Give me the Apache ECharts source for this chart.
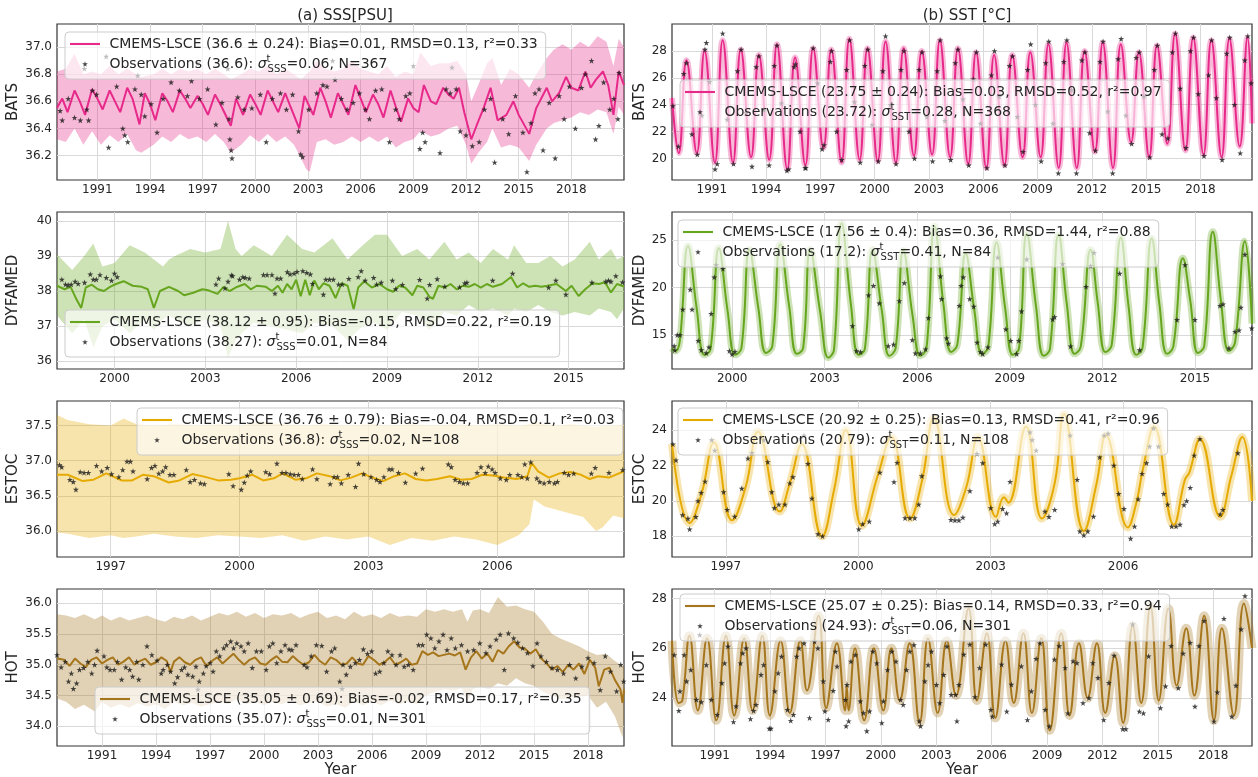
<!DOCTYPE html>
<html>
<head>
<meta charset="utf-8">
<title>CMEMS-LSCE vs observations</title>
<script src="https://cdn.jsdelivr.net/npm/echarts@6/dist/echarts.min.js"></script>
<style>
html, body { margin: 0; padding: 0; background: #fff; }
#main { width: 1258px; height: 777px; }
</style>
</head>
<body>
<div id="main"></div>
<script>
// tick labels
var yearTicksLong = [1991, 1994, 1997, 2000, 2003, 2006, 2009, 2012, 2015, 2018];
var yearTicksDyf = [2000, 2003, 2006, 2009, 2012, 2015];
var yearTicksEstoc = [1997, 2000, 2003, 2006];
var batsSssTicks = [36.2, 36.4, 36.6, 36.8, 37.0];
var batsSstTicks = [20, 22, 24, 26, 28];
var dyfSssTicks = [36, 37, 38, 39, 40];
var dyfSstTicks = [15, 20, 25];
var estocSssTicks = [36.0, 36.5, 37.0, 37.5];
var estocSstTicks = [18, 20, 22, 24];
var hotSssTicks = [34.0, 34.5, 35.0, 35.5, 36.0];
var hotSstTicks = [24, 26, 28];

var legendModel = [
    'CMEMS-LSCE (36.6 ± 0.24): Bias=0.01, RMSD=0.13, r²=0.33',
    'CMEMS-LSCE (23.75 ± 0.24): Bias=0.03, RMSD=0.52, r²=0.97',
    'CMEMS-LSCE (38.12 ± 0.95): Bias=-0.15, RMSD=0.22, r²=0.19',
    'CMEMS-LSCE (17.56 ± 0.4): Bias=0.36, RMSD=1.44, r²=0.88',
    'CMEMS-LSCE (36.76 ± 0.79): Bias=-0.04, RMSD=0.1, r²=0.03',
    'CMEMS-LSCE (20.92 ± 0.25): Bias=0.13, RMSD=0.41, r²=0.96',
    'CMEMS-LSCE (35.05 ± 0.69): Bias=-0.02, RMSD=0.17, r²=0.35',
    'CMEMS-LSCE (25.07 ± 0.25): Bias=0.14, RMSD=0.33, r²=0.94'
];
var legendObs = [
    ['Observations (36.6): ', 'SSS', '=0.06, N=367'],
    ['Observations (23.72): ', 'SST', '=0.28, N=368'],
    ['Observations (38.27): ', 'SSS', '=0.01, N=84'],
    ['Observations (17.2): ', 'SST', '=0.41, N=84'],
    ['Observations (36.8): ', 'SSS', '=0.02, N=108'],
    ['Observations (20.79): ', 'SST', '=0.11, N=108'],
    ['Observations (35.07): ', 'SSS', '=0.01, N=301'],
    ['Observations (24.93): ', 'SST', '=0.06, N=301']
];

// ---- BATS ----
var batsSssModel = [[1988.7,36.55],[1989.0,36.62],[1989.3,36.52],[1989.7,36.68],[1990.0,36.60],[1990.3,36.50],[1990.7,36.69],[1991.0,36.62],[1991.3,36.54],[1991.7,36.68],[1992.0,36.60],[1992.3,36.52],[1992.7,36.70],[1993.0,36.62],[1993.4,36.43],[1993.7,36.66],[1994.0,36.58],[1994.3,36.46],[1994.7,36.66],[1995.0,36.60],[1995.3,36.52],[1995.7,36.68],[1996.0,36.62],[1996.3,36.55],[1996.7,36.64],[1997.0,36.58],[1997.3,36.50],[1997.7,36.65],[1998.0,36.58],[1998.6,36.42],[1998.9,36.62],[1999.3,36.50],[1999.7,36.65],[2000.0,36.58],[2000.3,36.50],[2000.7,36.68],[2001.0,36.60],[2001.3,36.52],[2001.7,36.66],[2002.0,36.56],[2002.5,36.40],[2002.8,36.64],[2003.3,36.50],[2003.7,36.70],[2004.0,36.60],[2004.3,36.48],[2004.7,36.66],[2005.0,36.58],[2005.3,36.50],[2005.7,36.72],[2006.0,36.62],[2006.3,36.52],[2006.7,36.65],[2007.0,36.58],[2007.3,36.48],[2007.7,36.68],[2008.0,36.56],[2008.3,36.45],[2008.7,36.62],[2009.0,36.55],[2009.3,36.52],[2009.6,36.72],[2010.0,36.60],[2010.3,36.58],[2010.7,36.70],[2011.0,36.65],[2011.3,36.62],[2011.6,36.70],[2011.9,36.52],[2012.3,36.32],[2012.6,36.42],[2013.0,36.55],[2013.4,36.70],[2013.8,36.46],[2014.3,36.50],[2014.7,36.60],[2015.0,36.50],[2015.6,36.36],[2016.0,36.55],[2016.6,36.70],[2016.9,36.60],[2017.3,36.66],[2017.7,36.78],[2018.0,36.70],[2018.4,36.68],[2018.8,36.82],[2019.1,36.70],[2019.4,36.76],[2019.8,36.82],[2020.1,36.72],[2020.4,36.50],[2020.7,36.82],[2021.0,36.72]];
// [time, lower, upper]
var batsSssBand = [[1988.7,36.32,36.82],[1989.2,36.30,36.84],[1989.7,36.40,36.95],[1990.2,36.28,36.80],[1990.7,36.38,36.82],[1991.2,36.28,36.80],[1991.7,36.35,36.86],[1992.2,36.30,36.80],[1992.7,36.36,36.84],[1993.2,36.24,36.80],[1993.5,36.22,36.78],[1994.2,36.28,36.80],[1994.7,36.34,36.84],[1995.2,36.30,36.80],[1995.7,36.36,36.84],[1996.2,36.32,36.82],[1996.7,36.34,36.84],[1997.2,36.30,36.80],[1997.7,36.36,36.84],[1998.2,36.30,36.80],[1998.6,36.22,36.76],[1999.2,36.28,36.80],[1999.7,36.35,36.84],[2000.2,36.30,36.82],[2000.7,36.36,36.86],[2001.2,36.30,36.80],[2001.7,36.34,36.84],[2002.2,36.28,36.80],[2002.6,36.18,36.76],[2002.9,36.10,36.80],[2003.1,36.08,36.82],[2003.5,36.30,36.90],[2004.0,36.32,36.84],[2004.5,36.28,36.82],[2005.0,36.30,36.84],[2005.5,36.34,36.90],[2006.0,36.30,36.84],[2006.5,36.34,36.82],[2007.0,36.30,36.80],[2007.5,36.34,36.86],[2008.0,36.26,36.78],[2008.5,36.30,36.82],[2009.0,36.32,36.80],[2009.4,36.38,36.96],[2010.0,36.34,36.86],[2010.5,36.36,36.88],[2011.0,36.40,36.88],[2011.5,36.42,36.90],[2012.0,36.28,36.80],[2012.3,36.14,36.60],[2012.7,36.22,36.72],[2013.2,36.30,36.88],[2013.5,36.40,36.92],[2014.0,36.26,36.72],[2014.5,36.28,36.84],[2015.0,36.26,36.80],[2015.6,36.16,36.70],[2016.0,36.28,36.80],[2016.6,36.40,36.92],[2017.0,36.44,36.98],[2017.5,36.46,37.02],[2018.0,36.48,36.98],[2018.5,36.52,37.04],[2019.0,36.50,37.00],[2019.5,36.54,37.08],[2020.0,36.52,37.04],[2020.4,36.36,36.86],[2020.7,36.56,37.06],[2021.0,36.50,37.00]];
var batsSssObs = [[1988.88,36.53],[1989.0,36.46],[1989.34,36.62],[1989.7,36.48],[1990.03,36.46],[1990.26,36.84],[1990.4,36.54],[1990.5,36.46],[1990.72,36.68],[1990.95,36.65],[1991.5,36.93],[1991.64,36.26],[1992.1,36.71],[1992.45,36.40],[1992.56,36.35],[1992.73,36.30],[1993.14,36.69],[1993.3,36.79],[1993.5,36.65],[1993.7,36.49],[1994.06,36.58],[1994.4,36.37],[1994.75,36.62],[1995.2,36.74],[1995.67,36.68],[1996.13,36.64],[1996.36,36.75],[1996.7,36.88],[1996.82,36.62],[1997.28,36.69],[1997.75,36.43],[1998.1,36.59],[1998.43,36.84],[1998.5,36.47],[1998.55,36.32],[1998.62,36.24],[1998.67,36.18],[1999.0,36.63],[1999.36,36.54],[1999.8,36.55],[2000.28,36.65],[2000.62,36.30],[2000.97,36.62],[2001.43,36.66],[2001.77,36.54],[2002.12,36.65],[2002.46,36.38],[2002.58,36.21],[2002.69,36.19],[2003.04,36.54],[2003.5,36.66],[2003.85,36.72],[2004.08,36.71],[2004.4,36.90],[2004.45,37.0],[2004.54,36.76],[2004.9,36.62],[2005.23,36.54],[2005.57,36.59],[2005.93,36.66],[2006.27,36.54],[2006.5,36.47],[2006.85,36.68],[2007.2,36.69],[2007.64,36.30],[2007.99,36.54],[2008.2,36.47],[2008.57,36.64],[2008.8,36.66],[2009.0,36.86],[2009.37,36.25],[2009.53,36.37],[2009.67,36.30],[2010.52,36.22],[2010.87,36.69],[2011.1,36.66],[2011.2,36.85],[2011.44,36.69],[2011.67,36.38],[2012.0,36.35],[2012.36,36.27],[2012.75,36.30],[2013.05,36.54],[2013.4,36.62],[2013.63,36.15],[2014.09,36.47],[2014.43,36.36],[2014.82,36.64],[2015.24,36.37],[2015.47,36.08],[2015.7,36.44],[2015.93,36.66],[2016.16,36.69],[2016.39,36.24],[2016.74,36.59],[2017.08,36.18],[2017.31,36.64],[2017.59,36.47],[2017.89,36.71],[2018.23,36.40],[2018.58,36.70],[2018.8,36.80],[2019.15,36.90],[2019.38,36.32],[2019.57,36.42],[2019.84,36.74],[2020.19,36.54],[2020.42,36.62],[2020.65,36.47],[2020.72,36.81]];

var batsSstModel = [[1988.8,24.5],[1989.17,20.4],[1989.6,27.3],[1990.17,20.4],[1990.6,28.0],[1991.17,19.7],[1991.6,28.8],[1992.17,19.7],[1992.6,28.1],[1993.17,20.1],[1993.6,27.7],[1994.17,19.9],[1994.6,28.5],[1995.17,19.2],[1995.6,27.5],[1996.17,19.5],[1996.6,28.2],[1997.17,20.8],[1997.6,28.1],[1998.17,19.7],[1998.6,28.9],[1999.17,19.9],[1999.6,28.2],[2000.17,19.8],[2000.6,28.7],[2001.17,19.7],[2001.6,28.2],[2002.17,20.2],[2002.6,28.0],[2003.17,20.3],[2003.6,28.8],[2004.17,20.1],[2004.6,28.2],[2005.17,19.6],[2005.6,27.9],[2006.17,19.3],[2006.6,27.7],[2007.17,19.5],[2007.6,27.7],[2008.17,20.1],[2008.6,27.9],[2009.17,20.1],[2009.6,28.5],[2010.17,19.3],[2010.6,28.6],[2011.17,19.3],[2011.6,28.0],[2012.17,20.5],[2012.6,28.6],[2013.17,19.3],[2013.6,28.5],[2014.17,21.2],[2014.6,27.9],[2015.17,20.1],[2015.6,28.4],[2016.17,21.1],[2016.6,29.3],[2017.17,20.6],[2017.6,29.0],[2018.17,20.3],[2018.6,28.8],[2019.17,20.1],[2019.6,28.9],[2020.17,20.9],[2020.6,29.0],[2020.85,22.6]];
var batsSstObs = [[1988.85,23.9],[1989.15,20.9],[1989.45,26.3],[1989.6,27.1],[1989.9,21.8],[1990.2,20.3],[1990.45,23.2],[1990.62,28.1],[1990.7,28.6],[1990.88,25.7],[1991.18,19.2],[1991.3,19.6],[1991.6,29.3],[1991.85,22.9],[1992.2,19.6],[1992.42,26.5],[1992.62,28.1],[1992.9,23.4],[1993.22,19.4],[1993.45,26.8],[1993.6,27.6],[1993.88,23.6],[1994.17,19.5],[1994.45,26.9],[1994.6,28.4],[1994.85,24.1],[1995.15,19.1],[1995.25,19.2],[1995.55,26.8],[1995.62,27.0],[1995.88,22.0],[1996.15,19.3],[1996.2,19.3],[1996.6,28.2],[1996.85,25.6],[1997.1,20.7],[1997.2,21.0],[1997.55,27.2],[1997.62,28.0],[1997.9,22.0],[1998.18,19.9],[1998.45,26.6],[1998.62,28.8],[1998.88,24.2],[1999.2,19.7],[1999.45,26.9],[1999.62,28.1],[1999.85,22.5],[2000.2,19.8],[2000.45,26.5],[2000.6,29.1],[2000.88,24.0],[2001.18,19.6],[2001.45,26.6],[2001.62,28.0],[2001.9,22.0],[2002.2,20.0],[2002.45,26.6],[2002.62,27.9],[2002.88,23.1],[2003.2,19.8],[2003.45,26.5],[2003.62,28.8],[2003.88,22.8],[2004.2,19.9],[2004.45,27.1],[2004.6,28.1],[2004.88,24.4],[2005.2,19.5],[2005.45,25.9],[2005.62,27.9],[2005.85,22.6],[2006.2,19.3],[2006.45,26.2],[2006.62,28.0],[2006.88,24.6],[2007.2,19.5],[2007.45,26.9],[2007.62,27.6],[2007.88,23.1],[2008.2,20.5],[2008.45,26.6],[2008.62,28.5],[2008.88,24.0],[2009.2,19.8],[2009.45,27.1],[2009.62,28.7],[2009.85,22.6],[2010.15,18.9],[2010.45,27.2],[2010.62,28.8],[2010.88,25.1],[2011.15,18.9],[2011.45,27.3],[2011.62,27.9],[2011.88,21.9],[2012.2,20.6],[2012.45,27.2],[2012.62,28.7],[2012.88,23.5],[2013.15,18.9],[2013.45,27.4],[2013.62,28.9],[2013.88,23.2],[2014.2,21.1],[2014.45,27.5],[2014.62,27.9],[2014.88,24.6],[2015.2,20.1],[2015.45,26.6],[2015.62,28.4],[2015.88,21.8],[2016.2,21.5],[2016.45,27.9],[2016.62,29.3],[2016.88,25.2],[2017.2,20.8],[2017.45,28.0],[2017.62,29.0],[2017.88,24.8],[2018.2,20.2],[2018.45,26.2],[2018.62,28.8],[2018.88,24.5],[2019.2,19.9],[2019.45,27.8],[2019.62,29.0],[2019.88,24.0],[2020.2,20.4],[2020.45,27.3],[2020.62,29.1],[2020.8,25.6]];

// ---- DYFAMED ----
var dyfSssModel = [[1998.1,38.15],[1998.35,38.05],[1998.55,38.12],[1998.75,37.75],[1998.9,37.52],[1999.05,38.1],[1999.25,38.18],[1999.45,38.05],[1999.65,38.0],[1999.85,38.12],[2000.05,38.2],[2000.3,38.28],[2000.6,38.15],[2000.9,38.12],[2001.1,38.05],[2001.3,37.52],[2001.5,38.0],[2001.8,38.12],[2002.1,38.0],[2002.3,37.88],[2002.6,37.95],[2002.9,38.05],[2003.1,38.02],[2003.4,37.92],[2003.6,38.12],[2003.8,38.0],[2004.0,38.1],[2004.3,38.2],[2004.5,38.05],[2004.7,38.15],[2005.0,38.12],[2005.2,38.0],[2005.4,38.15],[2005.55,37.95],[2005.7,38.2],[2005.85,38.05],[2006.0,38.32],[2006.15,37.85],[2006.3,38.32],[2006.45,37.88],[2006.6,38.3],[2006.75,38.05],[2006.9,38.22],[2007.1,38.15],[2007.3,37.8],[2007.5,38.22],[2007.7,38.15],[2007.9,37.48],[2008.05,38.1],[2008.25,38.28],[2008.5,38.1],[2008.75,38.2],[2009.0,38.05],[2009.2,37.98],[2009.4,38.15],[2009.6,38.1],[2009.84,37.88],[2010.0,38.15],[2010.2,38.1],[2010.41,37.83],[2010.52,37.78],[2010.7,38.15],[2010.9,38.1],[2011.1,38.2],[2011.3,38.05],[2011.5,38.15],[2011.7,38.12],[2011.9,38.2],[2012.1,38.1],[2012.3,38.2],[2012.5,38.12],[2012.8,38.2],[2013.1,38.4],[2013.3,38.1],[2013.5,38.22],[2013.7,38.12],[2013.9,38.15],[2014.1,38.12],[2014.3,38.15],[2014.6,38.2],[2014.91,38.0],[2015.1,38.15],[2015.33,37.86],[2015.55,38.05],[2015.79,38.22],[2016.0,38.2],[2016.2,38.25],[2016.4,37.96],[2016.6,38.2],[2016.83,38.13]];
var dyfSssBand = [[1998.1,37.30,39.05],[1998.6,36.80,38.60],[1999.0,37.20,39.00],[1999.3,36.40,39.35],[1999.6,37.00,38.70],[2000.0,37.20,38.80],[2000.5,36.80,39.30],[2001.0,37.20,39.10],[2001.3,36.90,38.90],[2001.6,37.20,38.70],[2001.8,37.30,38.90],[2002.0,37.20,39.00],[2002.5,37.00,39.20],[2003.0,37.20,39.10],[2003.5,37.00,39.20],[2003.75,36.10,40.00],[2004.0,36.60,39.20],[2004.2,36.80,39.00],[2004.6,37.10,39.30],[2005.2,37.00,39.00],[2005.7,36.90,39.60],[2006.2,36.80,39.20],[2006.6,37.10,39.10],[2007.2,37.00,39.50],[2007.7,36.60,38.90],[2008.2,37.00,39.30],[2008.6,37.10,39.60],[2009.0,36.90,39.60],[2009.5,37.40,39.00],[2010.0,37.30,39.20],[2010.4,36.90,38.90],[2010.9,37.40,39.40],[2011.3,37.30,38.90],[2011.7,37.60,39.10],[2012.1,37.40,38.80],[2012.5,37.50,39.20],[2013.0,37.30,38.90],[2013.2,37.50,39.30],[2013.6,37.40,38.80],[2014.0,37.60,38.80],[2014.4,37.40,39.00],[2014.8,37.30,38.70],[2015.2,37.40,38.90],[2015.7,37.30,39.40],[2016.0,37.50,38.90],[2016.4,37.40,39.20],[2016.6,37.20,38.90],[2016.83,37.50,39.00]];
var dyfSssObs = [[1998.26,38.33],[1998.38,38.19],[1998.47,38.17],[1998.57,38.19],[1998.7,38.27],[1998.8,38.21],[1999.01,38.24],[1999.2,38.48],[1999.3,38.33],[1999.4,38.33],[1999.52,38.46],[1999.73,38.38],[1999.9,38.3],[2000.0,38.5],[2000.09,38.4],[2003.35,38.19],[2003.44,38.36],[2003.65,38.08],[2003.75,38.27],[2003.86,38.45],[2003.9,38.43],[2004.13,38.33],[2004.24,38.4],[2004.32,38.38],[2004.45,38.36],[2004.92,38.46],[2005.04,38.46],[2005.2,38.46],[2005.3,37.93],[2005.37,38.36],[2005.49,38.36],[2005.71,38.54],[2005.8,38.48],[2005.93,38.5],[2006.03,38.55],[2006.22,38.57],[2006.35,38.52],[2006.47,38.48],[2006.54,38.21],[2006.9,37.9],[2006.98,38.33],[2007.1,38.33],[2007.23,38.33],[2007.4,38.19],[2007.52,38.19],[2007.74,38.35],[2008.05,38.4],[2008.15,38.57],[2008.28,38.3],[2008.56,38.38],[2008.66,38.19],[2008.81,38.24],[2009.18,38.3],[2009.29,38.06],[2009.51,38.18],[2010.08,38.32],[2010.33,37.79],[2010.41,38.18],[2010.66,38.34],[2010.91,38.13],[2011.4,38.11],[2011.57,38.22],[2011.64,38.24],[2012.49,38.3],[2013.15,38.5],[2014.34,38.1],[2014.58,38.3],[2014.91,37.9],[2015.77,38.24],[2016.23,38.27],[2016.32,38.3],[2016.4,38.27],[2016.56,38.43],[2016.78,38.25]];

var dyfSstModel = [[1998.05,13.6],[1998.15,13.3],[1998.3,14.3],[1998.57,24.4],[1998.85,17.8],[1999.1,12.9],[1999.3,13.5],[1999.57,24.2],[1999.85,17.6],[2000.1,12.9],[2000.3,13.6],[2000.56,24.0],[2000.85,17.8],[2001.1,13.1],[2001.3,13.8],[2001.56,24.6],[2001.85,18.0],[2002.1,13.0],[2002.3,13.6],[2002.53,24.0],[2002.85,17.5],[2003.12,12.6],[2003.3,13.4],[2003.55,26.8],[2003.85,18.2],[2004.1,12.9],[2004.3,13.5],[2004.55,24.0],[2004.85,17.6],[2005.1,12.8],[2005.3,13.6],[2005.55,23.9],[2005.85,17.0],[2006.1,12.8],[2006.3,13.6],[2006.56,26.5],[2006.85,18.2],[2007.1,13.2],[2007.3,14.0],[2007.57,23.6],[2007.85,17.6],[2008.1,13.0],[2008.3,13.7],[2008.57,24.8],[2008.85,17.8],[2009.1,12.9],[2009.3,13.6],[2009.55,25.7],[2009.85,18.0],[2010.1,12.8],[2010.3,13.5],[2010.58,25.6],[2010.85,18.2],[2011.1,13.0],[2011.3,13.8],[2011.62,24.0],[2011.85,18.4],[2012.1,13.2],[2012.3,13.9],[2012.6,25.3],[2012.85,18.0],[2013.1,12.9],[2013.3,13.6],[2013.6,25.2],[2013.85,18.2],[2014.1,13.0],[2014.3,13.8],[2014.61,23.1],[2014.85,18.6],[2015.1,13.1],[2015.3,13.8],[2015.58,25.9],[2015.85,18.4],[2016.1,13.3],[2016.3,14.2],[2016.62,24.9],[2016.85,16.2]];
var dyfSstObs = [[1998.12,13.84],[1998.14,13.38],[1998.22,15.0],[1998.31,15.0],[1998.4,17.7],[1998.64,19.8],[1998.7,17.7],[1998.9,14.4],[1999.0,13.4],[1999.16,13.1],[1999.25,13.7],[1999.32,17.25],[1999.42,21.1],[1999.48,22.4],[1999.7,22.0],[1999.91,13.3],[2000.0,12.96],[2000.09,13.24],[2003.9,15.95],[2004.03,13.3],[2004.16,13.2],[2004.42,19.2],[2004.58,20.2],[2004.77,18.35],[2005.06,13.84],[2005.23,14.0],[2005.42,18.6],[2005.58,20.5],[2005.84,14.47],[2005.94,13.06],[2006.1,13.06],[2006.27,13.5],[2006.36,16.8],[2006.75,21.2],[2006.79,18.8],[2006.95,14.65],[2007.01,14.1],[2007.36,18.1],[2007.42,20.2],[2007.49,21.1],[2007.7,18.8],[2007.83,18.0],[2007.94,14.2],[2008.05,13.2],[2008.12,13.0],[2008.29,13.7],[2008.61,23.2],[2008.87,15.6],[2009.03,14.4],[2009.22,13.0],[2009.29,14.4],[2009.38,17.5],[2009.55,23.0],[2010.39,16.65],[2010.45,16.9],[2010.71,22.5],[2010.97,13.8],[2011.47,20.1],[2011.62,22.3],[2011.73,23.7],[2012.56,21.5],[2013.21,13.4],[2014.42,16.6],[2014.68,22.4],[2015.0,16.6],[2015.81,18.1],[2015.91,18.25],[2016.1,13.6],[2016.3,15.35],[2016.43,15.5],[2016.49,17.9],[2016.62,23.5],[2016.84,15.7]];

// ---- ESTOC ----
var estocSssModel = [[1995.75,36.80],[1996.0,36.80],[1996.35,36.71],[1996.6,36.73],[1996.9,36.82],[1997.25,36.72],[1997.5,36.72],[1997.75,36.80],[1998.0,36.78],[1998.35,36.69],[1998.6,36.72],[1998.9,36.81],[1999.2,36.77],[1999.5,36.72],[1999.8,36.73],[2000.0,36.75],[2000.3,36.80],[2000.55,36.72],[2000.8,36.75],[2001.0,36.82],[2001.3,36.73],[2001.55,36.75],[2001.8,36.82],[2002.1,36.78],[2002.35,36.72],[2002.6,36.76],[2002.85,36.82],[2003.1,36.76],[2003.35,36.71],[2003.6,36.78],[2003.85,36.82],[2004.1,36.74],[2004.35,36.72],[2004.6,36.74],[2004.9,36.78],[2005.15,36.73],[2005.4,36.74],[2005.65,36.80],[2005.9,36.79],[2006.15,36.76],[2006.45,36.74],[2006.7,36.78],[2006.8,36.97],[2006.95,36.85],[2007.2,36.76],[2007.45,36.82],[2007.7,36.84],[2007.95,36.80],[2008.15,36.74],[2008.35,36.78],[2008.6,36.76],[2008.95,36.85]];
var estocSssBand = [[1995.75,35.98,37.65],[1996.0,35.96,37.58],[1996.5,35.90,37.52],[1997.0,35.94,37.50],[1997.3,35.90,37.60],[1997.6,35.92,37.52],[1998.0,35.96,37.50],[1998.5,35.92,37.52],[1999.0,35.90,37.50],[1999.5,35.94,37.52],[2000.0,35.92,37.50],[2000.5,35.90,37.56],[2001.0,35.94,37.52],[2001.5,35.86,37.50],[2002.0,35.92,37.52],[2002.5,35.88,37.50],[2003.0,35.92,37.52],[2003.5,35.80,37.50],[2004.0,35.90,37.52],[2004.5,35.86,37.50],[2005.0,35.92,37.52],[2005.5,35.88,37.50],[2006.0,35.80,37.52],[2006.5,35.94,37.50],[2006.75,36.10,37.52],[2006.85,36.45,37.55],[2007.1,36.35,37.52],[2007.4,36.30,37.50],[2007.7,36.25,37.52],[2008.0,36.20,37.50],[2008.3,36.00,37.48],[2008.45,36.05,37.50],[2008.7,36.22,37.50],[2008.95,36.18,37.52]];
var estocSssObs = [[1995.81,36.94],[1995.86,36.91],[1996.05,36.73],[1996.13,36.70],[1996.19,36.59],[1996.29,36.84],[1996.38,36.83],[1996.48,36.83],[1996.67,36.93],[1996.79,36.85],[1996.92,36.90],[1997.02,36.81],[1997.19,36.77],[1997.28,36.87],[1997.38,36.99],[1997.46,36.99],[1997.52,36.85],[1997.85,36.74],[1997.95,36.90],[1998.03,36.93],[1998.12,36.82],[1998.21,36.85],[1998.28,36.91],[1998.38,36.80],[1998.47,36.80],[1998.76,36.87],[1998.85,36.70],[1998.95,36.73],[1999.09,36.68],[1999.18,36.67],[1999.75,36.81],[1999.85,36.64],[2000.04,36.59],[2000.11,36.69],[2000.18,36.79],[2000.26,36.85],[2000.61,36.84],[2000.7,36.81],[2000.87,36.96],[2000.99,36.83],[2001.08,36.83],[2001.18,36.81],[2001.27,36.80],[2001.37,36.80],[2001.46,36.74],[2001.7,36.88],[2001.8,36.74],[2002.11,36.67],[2002.2,36.77],[2002.28,36.77],[2002.37,36.68],[2002.53,36.80],[2002.7,36.63],[2002.77,36.96],[2002.89,36.81],[2003.06,36.77],[2003.19,36.73],[2003.27,36.70],[2003.36,36.77],[2003.48,36.88],[2003.55,36.88],[2003.7,36.83],[2003.86,36.69],[2004.1,36.82],[2004.26,36.89],[2004.86,36.95],[2004.93,36.91],[2005.02,36.73],[2005.12,36.70],[2005.21,36.68],[2005.31,36.68],[2005.53,36.83],[2005.62,36.91],[2005.72,36.83],[2005.79,36.92],[2005.88,36.88],[2005.95,36.83],[2006.07,36.75],[2006.21,36.73],[2006.29,36.80],[2006.48,36.80],[2006.57,36.77],[2006.64,36.95],[2006.7,36.75],[2006.78,36.98],[2006.92,36.75],[2006.99,36.70],[2007.09,36.68],[2007.21,36.70],[2007.33,36.68],[2007.4,36.70],[2007.56,36.83],[2007.66,36.80],[2007.78,36.82],[2008.19,36.82],[2008.28,36.90],[2008.6,36.83],[2008.92,36.87]];

var estocSstModel = [[1995.78,23.2],[1996.18,18.75],[1996.45,20.4],[1996.73,23.3],[1997.14,18.9],[1997.45,20.8],[1997.73,23.9],[1998.22,19.4],[1998.45,21.0],[1998.72,23.2],[1999.18,18.0],[1999.45,20.6],[1999.72,24.0],[2000.08,18.6],[2000.45,21.5],[2000.75,23.6],[2001.17,19.0],[2001.45,21.2],[2001.71,24.7],[2002.17,19.2],[2002.45,20.8],[2002.71,23.6],[2003.12,19.1],[2003.3,20.2],[2003.4,19.9],[2003.8,24.2],[2004.16,19.0],[2004.45,21.0],[2004.66,24.9],[2005.11,18.3],[2005.4,21.0],[2005.61,23.7],[2006.11,18.5],[2006.3,19.9],[2006.45,21.8],[2006.7,24.2],[2007.15,18.65],[2007.4,21.2],[2007.5,21.6],[2007.74,23.5],[2008.2,19.1],[2008.45,21.4],[2008.7,23.6],[2008.92,20.0]];
var estocSstObs = [[1995.8,23.2],[1995.87,22.3],[1996.02,19.2],[1996.14,19.0],[1996.18,18.4],[1996.32,19.1],[1996.37,20.0],[1996.44,20.46],[1996.53,21.1],[1996.68,23.44],[1996.75,22.85],[1996.95,20.5],[1997.03,19.5],[1997.2,19.12],[1997.36,20.7],[1997.5,22.4],[1997.59,22.7],[1997.86,23.44],[1997.95,22.2],[1998.04,20.5],[1998.1,19.6],[1998.2,19.8],[1998.34,19.8],[1998.45,21.0],[1998.52,21.35],[1998.68,23.5],[1998.77,23.7],[1998.86,22.1],[1998.95,20.14],[1999.09,18.13],[1999.19,18.0],[2000.01,18.4],[2000.1,18.7],[2000.25,18.84],[2000.49,21.6],[2000.81,21.07],[2000.88,22.16],[2001.06,19.03],[2001.17,19.03],[2001.28,19.03],[2001.37,19.8],[2001.44,21.4],[2002.1,18.93],[2002.19,18.9],[2002.28,18.9],[2002.37,19.06],[2002.53,20.56],[2002.69,22.66],[2002.82,22.14],[2003.0,19.6],[2003.09,18.7],[2003.16,18.84],[2003.27,19.55],[2003.36,19.3],[2003.44,21.08],[2003.89,23.87],[2003.94,23.44],[2004.03,22.85],[2004.23,19.4],[2004.32,19.1],[2004.45,19.5],[2004.8,23.7],[2004.96,21.2],[2005.02,18.28],[2005.11,18.06],[2005.2,18.28],[2005.33,19.12],[2005.47,22.47],[2005.57,23.7],[2005.66,23.8],[2005.79,22.0],[2005.9,20.4],[2006.02,19.55],[2006.17,17.87],[2006.26,18.56],[2006.34,20.1],[2006.43,21.54],[2006.53,22.14],[2006.6,23.07],[2006.69,24.1],[2006.8,23.07],[2006.92,20.4],[2007.01,19.8],[2007.1,18.56],[2007.2,18.56],[2007.29,18.66],[2007.38,19.77],[2007.44,20.0],[2007.52,20.74],[2007.61,22.57],[2007.74,23.5],[2008.2,19.25],[2008.26,19.5],[2008.6,22.7]];

// ---- HOT ----
var hotSssModel = [[1988.5,35.10],[1988.9,35.08],[1989.2,34.98],[1989.5,35.10],[1989.8,35.02],[1990.1,34.96],[1990.4,35.08],[1990.7,35.12],[1991.0,35.02],[1991.3,35.08],[1991.6,35.12],[1991.9,35.0],[1992.2,35.05],[1992.5,35.12],[1992.8,35.0],[1993.1,35.06],[1993.4,35.10],[1993.7,35.0],[1994.0,35.04],[1994.3,35.12],[1994.6,35.06],[1994.8,34.88],[1995.0,35.05],[1995.3,35.12],[1995.6,35.04],[1995.9,35.0],[1996.2,35.08],[1996.5,35.12],[1996.8,34.98],[1997.1,35.06],[1997.4,35.12],[1997.7,35.02],[1998.0,35.10],[1998.3,35.18],[1998.6,35.08],[1998.9,35.0],[1999.2,35.08],[1999.5,35.12],[1999.8,35.02],[2000.1,35.0],[2000.4,35.08],[2000.7,35.14],[2001.0,35.05],[2001.3,35.04],[2001.6,35.14],[2001.9,35.06],[2002.2,35.0],[2002.5,35.04],[2002.8,35.16],[2003.1,35.06],[2003.4,35.0],[2003.7,35.12],[2004.0,35.08],[2004.3,35.0],[2004.6,35.02],[2004.9,35.12],[2005.2,35.02],[2005.5,35.0],[2005.8,35.14],[2006.1,35.08],[2006.4,35.0],[2006.7,35.04],[2007.0,35.12],[2007.3,35.0],[2007.6,35.04],[2007.9,35.10],[2008.2,35.0],[2008.5,35.02],[2008.8,35.22],[2009.1,35.16],[2009.4,35.20],[2009.7,35.14],[2010.0,35.16],[2010.3,35.18],[2010.6,35.15],[2010.9,35.20],[2011.2,34.92],[2011.5,35.12],[2011.8,35.22],[2012.1,35.10],[2012.4,35.18],[2012.7,35.05],[2013.0,35.24],[2013.3,35.18],[2013.6,35.30],[2013.9,35.38],[2014.2,35.28],[2014.5,35.26],[2014.8,35.18],[2015.1,35.25],[2015.4,35.10],[2015.7,35.02],[2016.0,34.92],[2016.3,34.98],[2016.6,34.88],[2016.9,35.0],[2017.2,34.92],[2017.5,35.02],[2017.8,34.85],[2018.1,35.08],[2018.4,34.95],[2018.6,34.65],[2018.9,34.92],[2019.2,34.95],[2019.5,34.75],[2019.8,34.6],[2019.92,34.38],[2020.0,34.6]];
var hotSssBand = [[1988.5,34.45,35.82],[1989.0,34.40,35.80],[1989.5,34.28,35.76],[1990.0,34.35,35.82],[1990.6,34.24,35.74],[1991.0,34.40,35.80],[1991.5,34.30,35.72],[1992.0,34.36,35.78],[1992.5,34.30,35.72],[1993.0,34.38,35.76],[1993.5,34.32,35.80],[1994.0,34.36,35.74],[1994.5,34.28,35.70],[1995.0,34.40,35.78],[1995.5,34.34,35.74],[1996.0,34.38,35.80],[1996.5,34.32,35.72],[1997.0,34.36,35.78],[1997.5,34.40,35.84],[1998.0,34.36,35.80],[1998.5,34.44,35.86],[1999.0,34.36,35.78],[1999.5,34.40,35.84],[2000.0,34.34,35.76],[2000.5,34.40,35.82],[2001.0,34.36,35.80],[2001.5,34.42,35.84],[2002.0,34.34,35.76],[2002.5,34.38,35.82],[2003.0,34.40,35.86],[2003.5,34.32,35.76],[2004.0,34.36,35.80],[2004.5,34.30,35.74],[2005.0,34.40,35.86],[2005.5,34.34,35.78],[2006.0,34.40,35.82],[2006.5,34.34,35.76],[2007.0,34.42,35.84],[2007.5,34.36,35.78],[2008.0,34.40,35.80],[2008.5,34.36,35.78],[2009.0,34.50,35.90],[2009.5,34.56,35.86],[2010.0,34.60,35.90],[2010.5,34.58,35.86],[2011.0,34.62,35.90],[2011.3,34.40,35.70],[2011.6,34.60,35.88],[2012.0,34.64,35.90],[2012.5,34.60,35.84],[2013.0,34.70,36.10],[2013.5,34.66,35.94],[2014.0,34.78,35.96],[2014.5,34.70,35.90],[2015.0,34.66,35.86],[2015.5,34.56,35.70],[2016.0,34.50,35.50],[2016.5,34.44,35.42],[2017.0,34.46,35.36],[2017.5,34.48,35.30],[2018.0,34.50,35.22],[2018.5,34.30,35.16],[2019.0,34.40,35.18],[2019.5,34.16,35.06],[2019.92,33.82,34.98],[2020.0,34.10,35.00]];
var hotSssObs = [[1988.5,35.16],[1988.73,34.96],[1988.96,35.05],[1989.14,34.73],[1989.3,34.86],[1989.41,34.61],[1989.59,34.7],[1989.75,34.92],[1989.98,34.95],[1990.21,35.05],[1990.43,34.86],[1990.59,35.0],[1990.73,35.23],[1991.11,35.14],[1991.27,34.96],[1991.45,34.92],[1991.68,34.92],[1991.86,35.05],[1992.09,34.76],[1992.32,34.96],[1992.54,34.92],[1992.7,34.81],[1992.93,35.05],[1993.04,34.76],[1993.27,35.0],[1993.5,35.3],[1993.77,35.16],[1994.06,35.07],[1994.29,34.86],[1994.4,34.92],[1994.63,35.0],[1994.81,34.89],[1995.04,34.7],[1995.2,34.8],[1995.42,34.92],[1995.58,34.96],[1995.77,34.84],[1996.04,34.81],[1996.22,34.97],[1996.33,34.6],[1996.4,34.73],[1996.63,34.86],[1996.79,34.98],[1997.01,35.03],[1997.17,34.89],[1997.35,35.22],[1997.54,35.14],[1997.76,35.27],[1997.92,35.32],[1998.15,35.38],[1998.31,35.27],[1998.49,35.35],[1998.72,35.3],[1998.9,35.22],[1999.12,35.35],[1999.35,34.95],[1999.58,35.22],[1999.85,35.22],[2000.12,34.92],[2000.3,35.3],[2000.49,35.35],[2000.71,35.03],[2000.94,35.22],[2001.17,35.32],[2001.39,35.25],[2001.55,35.24],[2001.78,35.32],[2002.23,35.0],[2002.39,34.96],[2002.62,35.14],[2002.91,35.32],[2003.21,35.31],[2003.48,34.89],[2003.75,35.22],[2003.93,35.27],[2004.21,34.73],[2004.34,34.61],[2004.39,35.0],[2004.57,34.84],[2004.8,34.97],[2005.07,35.03],[2005.3,35.08],[2005.52,35.25],[2005.75,35.18],[2005.98,35.22],[2006.2,34.86],[2006.43,34.89],[2006.66,35.03],[2006.88,35.22],[2007.11,35.16],[2007.34,35.0],[2007.56,35.16],[2007.79,34.97],[2008.02,35.0],[2008.29,34.92],[2008.59,35.32],[2008.81,35.32],[2009.04,35.49],[2009.27,35.43],[2009.49,35.27],[2009.72,35.38],[2009.95,35.49],[2010.17,35.24],[2010.4,35.43],[2010.63,35.27],[2010.97,35.32],[2011.31,35.22],[2011.65,35.24],[2011.99,35.35],[2012.33,35.19],[2012.56,35.3],[2012.9,35.41],[2013.12,35.49],[2013.35,34.92],[2013.58,35.51],[2013.87,35.43],[2014.1,35.36],[2014.37,35.27],[2014.64,35.19],[2014.94,34.98],[2015.17,35.35],[2015.39,35.14],[2015.69,35.05],[2016.0,34.95],[2016.3,34.92],[2016.64,34.86],[2016.98,35.0],[2017.32,34.78],[2017.66,34.97],[2018.0,35.11],[2018.34,35.03],[2018.68,34.59],[2018.96,35.14],[2019.25,34.89],[2019.59,34.57],[2019.82,35.0],[2019.98,34.73]];

var hotSstModel = [[1988.69,26.3],[1989.05,23.8],[1989.25,23.9],[1989.64,26.5],[1990.09,23.5],[1990.59,26.4],[1991.09,23.1],[1991.61,26.5],[1992.06,23.3],[1992.6,26.4],[1993.05,23.5],[1993.58,26.5],[1993.99,23.3],[1994.57,26.3],[1995.07,23.4],[1995.64,26.3],[1996.0,24.3],[1996.63,27.3],[1997.04,23.6],[1997.62,26.2],[1998.07,23.5],[1998.15,24.5],[1998.25,23.5],[1998.6,26.0],[1999.1,23.1],[1999.62,26.0],[2000.13,23.5],[2000.57,26.0],[2001.02,23.9],[2001.56,26.2],[2002.1,23.0],[2002.55,26.4],[2003.08,23.4],[2003.57,26.3],[2004.07,24.1],[2004.75,27.6],[2005.2,23.9],[2005.74,26.6],[2006.2,23.2],[2006.75,26.3],[2007.2,23.8],[2007.72,26.6],[2008.18,23.4],[2008.69,26.4],[2009.15,22.7],[2009.77,26.6],[2010.22,23.3],[2010.73,26.2],[2011.2,24.0],[2011.7,26.2],[2012.15,23.4],[2012.67,25.7],[2013.12,23.0],[2013.64,26.9],[2014.1,23.8],[2014.6,27.7],[2015.05,23.9],[2015.57,27.6],[2016.02,24.5],[2016.54,26.8],[2016.98,24.1],[2017.51,27.3],[2018.04,23.1],[2018.47,26.8],[2019.12,23.3],[2019.66,27.8],[2020.1,26.0]];
var hotSstObs = [[1988.81,25.73],[1989.06,23.49],[1989.12,24.27],[1989.35,25.73],[1989.48,24.67],[1989.71,25.13],[1990.01,23.93],[1990.19,26.53],[1990.28,23.84],[1990.55,25.33],[1990.82,23.93],[1991.14,23.33],[1991.39,24.6],[1991.54,25.4],[1991.72,26.07],[1992.02,23.04],[1992.16,23.67],[1992.4,25.4],[1992.52,25.8],[1992.7,26.0],[1992.94,23.16],[1993.11,23.49],[1993.24,23.73],[1993.51,24.93],[1993.65,25.33],[1993.96,22.77],[1994.05,22.77],[1994.26,24.27],[1994.44,25.0],[1994.62,25.67],[1994.94,23.53],[1995.12,23.09],[1995.27,23.33],[1995.44,25.67],[1995.57,26.0],[1995.84,26.2],[1996.14,23.2],[1996.41,26.27],[1996.59,26.0],[1996.88,24.67],[1996.97,23.47],[1997.15,23.13],[1997.42,24.29],[1997.54,25.87],[1997.63,25.27],[1998.08,23.93],[1998.12,22.87],[1998.17,24.53],[1998.26,23.07],[1998.38,25.47],[1998.62,25.73],[1998.89,23.87],[1999.06,23.4],[1999.24,22.67],[1999.39,23.47],[1999.57,25.87],[1999.78,25.4],[2000.05,23.0],[2000.14,23.87],[2000.36,25.13],[2000.59,25.87],[2000.82,25.47],[2001.07,23.93],[2001.21,23.73],[2001.39,25.13],[2001.57,25.87],[2001.79,26.13],[2002.08,23.07],[2002.15,22.87],[2002.38,24.67],[2002.56,25.33],[2002.74,25.87],[2003.01,24.53],[2003.19,23.8],[2003.4,24.93],[2003.58,26.07],[2003.81,24.13],[2004.05,24.13],[2004.12,23.07],[2004.23,24.53],[2004.49,25.75],[2004.82,26.15],[2005.1,24.04],[2005.35,25.21],[2005.68,26.15],[2005.96,23.53],[2006.04,23.26],[2006.54,25.35],[2006.82,23.46],[2007.07,24.54],[2007.61,25.28],[2007.94,23.12],[2008.15,24.27],[2008.41,25.58],[2008.62,26.2],[2008.9,23.53],[2009.12,22.86],[2009.4,25.55],[2009.66,26.09],[2009.98,25.21],[2010.13,23.39],[2010.41,25.48],[2010.62,25.41],[2010.95,23.8],[2011.27,24.0],[2011.48,25.41],[2011.76,24.81],[2012.07,23.12],[2012.35,24.61],[2012.63,25.71],[2013.1,22.75],[2013.27,22.75],[2013.64,26.96],[2014.0,23.46],[2014.22,23.39],[2014.5,25.68],[2015.14,23.6],[2015.42,24.47],[2015.72,26.09],[2016.11,24.4],[2016.37,25.79],[2016.75,26.22],[2017.01,23.66],[2017.23,26.09],[2017.51,27.1],[2018.04,23.06],[2018.22,24.23],[2018.58,27.19],[2019.01,23.26],[2019.23,24.5],[2019.51,26.76],[2019.72,28.1]];

// ---- layout / style ----
var FONT = 'DejaVu Sans';
var INK = '#262626';
var starPath = 'path://M50,0L61.8,35.3L99,35.3L69,57.5L80.4,93L50,71.1L19.6,93L31,57.5L1,35.3L38.2,35.3Z';
// same star, padded so the legend draws it small
var legendStar = 'path://M-70,-75M170,168M50,0L61.8,35.3L99,35.3L69,57.5L80.4,93L50,71.1L19.6,93L31,57.5L1,35.3L38.2,35.3Z';
// flat bar used as the legend handle of the model line
var legendLine = 'path://M0,0L100,0L100,7L0,7Z';

var stationColors = ['#e7298a', '#66a61e', '#e6ab02', '#a6761d'];
var bandColors = ['rgba(231,41,138,0.33)', 'rgba(102,166,30,0.33)', 'rgba(230,171,2,0.33)', 'rgba(166,118,29,0.33)'];
// pixel width of the pale halo standing for the narrow SST band
var haloWidths = [6, 7, 8, 9];

var grids = [
    {left: 57, top: 24, width: 567, height: 156},
    {left: 672, top: 24, width: 580, height: 156},
    {left: 57, top: 212, width: 567, height: 157},
    {left: 672, top: 212, width: 580, height: 157},
    {left: 57, top: 401, width: 567, height: 156},
    {left: 672, top: 401, width: 580, height: 156},
    {left: 57, top: 589, width: 567, height: 157},
    {left: 672, top: 589, width: 580, height: 157}
];
var legendPos = [[65, 32], [680, 80], [65, 310], [678, 220], [137, 408], [678, 408], [95, 687], [680, 594]];

var panels = [
    {name: 'BATS', model: batsSssModel, band: batsSssBand, obs: batsSssObs, xr: [1988.7, 2021.0], yr: [36.02, 37.17], xt: yearTicksLong, yt: batsSssTicks, dec: 1},
    {name: 'BATS', model: batsSstModel, obs: batsSstObs, xr: [1988.8, 2020.85], yr: [18.4, 30.0], xt: yearTicksLong, yt: batsSstTicks, dec: 0},
    {name: 'DYFAMED', model: dyfSssModel, band: dyfSssBand, obs: dyfSssObs, xr: [1998.1, 2016.83], yr: [35.78, 40.25], xt: yearTicksDyf, yt: dyfSssTicks, dec: 0},
    {name: 'DYFAMED', model: dyfSstModel, obs: dyfSstObs, xr: [1998.05, 2016.85], yr: [11.4, 28.0], xt: yearTicksDyf, yt: dyfSstTicks, dec: 0},
    {name: 'ESTOC', model: estocSssModel, band: estocSssBand, obs: estocSssObs, xr: [1995.75, 2008.95], yr: [35.63, 37.85], xt: yearTicksEstoc, yt: estocSssTicks, dec: 1},
    {name: 'ESTOC', model: estocSstModel, obs: estocSstObs, xr: [1995.78, 2008.92], yr: [16.83, 25.64], xt: yearTicksEstoc, yt: estocSstTicks, dec: 0},
    {name: 'HOT', model: hotSssModel, band: hotSssBand, obs: hotSssObs, xr: [1988.5, 2020.0], yr: [33.68, 36.23], xt: yearTicksLong, yt: hotSssTicks, dec: 1},
    {name: 'HOT', model: hotSstModel, obs: hotSstObs, xr: [1988.69, 2020.1], yr: [22.07, 28.38], xt: yearTicksLong, yt: hotSstTicks, dec: 0}
];

var obsRich = {};
function legendFormatter(name) {
    if (obsRich[name]) return obsRich[name];
    return '{n| ' + name + '}';
}
var legendRich = {
    n: {fontSize: 14, fontFamily: FONT, color: INK, lineHeight: 20},
    g: {fontSize: 14, fontFamily: FONT, color: INK, fontStyle: 'italic', lineHeight: 20},
    sp: {fontSize: 10, fontFamily: FONT, color: INK, verticalAlign: 'top', lineHeight: 11, width: 1},
    sb: {fontSize: 10, fontFamily: FONT, color: INK, verticalAlign: 'bottom', lineHeight: 11}
};

// uncertainty band: one polygon (upper edge forward, lower edge back)
function bandSeries(rows, i, fill) {
    return {
        type: 'custom', name: 'band-' + i, xAxisIndex: i, yAxisIndex: i, silent: true, z: 1,
        data: rows, encode: {x: 0, y: [1, 2]},
        renderItem: function (params, api) {
            if (params.dataIndex !== 0) return null;
            var upper = [], lower = [];
            for (var k = 0; k < rows.length; k++) {
                upper.push(api.coord([rows[k][0], rows[k][2]]));
                lower.push(api.coord([rows[k][0], rows[k][1]]));
            }
            var cs = params.coordSys;
            return {
                type: 'polygon',
                shape: {points: upper.concat(lower.reverse())},
                style: {fill: fill},
                clipPath: {type: 'rect', shape: {x: cs.x, y: cs.y, width: cs.width, height: cs.height}}
            };
        }
    };
}

var option = {
    animation: false,
    backgroundColor: '#ffffff',
    title: [
        {text: '(a) SSS[PSU]', left: 340, top: 4, textAlign: 'center', textStyle: {fontSize: 15, fontWeight: 'normal', color: INK, fontFamily: FONT}},
        {text: '(b) SST [°C]', left: 962, top: 4, textAlign: 'center', textStyle: {fontSize: 15, fontWeight: 'normal', color: INK, fontFamily: FONT}}
    ],
    grid: [], xAxis: [], yAxis: [], legend: [], series: []
};

panels.forEach(function (p, i) {
    var col = i % 2;
    var station = Math.floor(i / 2);
    var color = stationColors[station];
    var isSst = col === 1;

    option.grid.push(Object.assign({show: true, borderColor: '#333', borderWidth: 1.2, backgroundColor: '#fff', outerBoundsMode: 'none', containLabel: false}, grids[i]));

    option.xAxis.push({
        type: 'value', gridIndex: i, min: p.xr[0], max: p.xr[1],
        axisLine: {show: false},
        axisTick: {show: false, customValues: p.xt},
        axisLabel: {customValues: p.xt, color: INK, fontSize: 12, fontFamily: FONT, margin: 4,
            formatter: function (v) { return String(Math.round(v)); }},
        splitLine: {show: true, lineStyle: {color: '#d9d9d9', width: 1}},
        name: i >= 6 ? 'Year' : '', nameLocation: 'middle', nameGap: 16,
        nameTextStyle: {fontSize: 15, color: INK, fontFamily: FONT}
    });
    option.yAxis.push({
        type: 'value', gridIndex: i, min: p.yr[0], max: p.yr[1],
        axisLine: {show: false},
        axisTick: {show: false, customValues: p.yt},
        axisLabel: {customValues: p.yt, color: INK, fontSize: 12, fontFamily: FONT, margin: 5,
            formatter: (function (d) { return function (v) { return v.toFixed(d); }; })(p.dec)},
        splitLine: {show: true, lineStyle: {color: '#d9d9d9', width: 1}},
        name: p.name, nameLocation: 'middle', nameRotate: 90, nameGap: col === 0 ? 36 : 24,
        nameTextStyle: {fontSize: 15, color: INK, fontFamily: FONT}
    });

    if (p.band) {
        option.series.push(bandSeries(p.band, i, bandColors[station]));
    }
    if (isSst) {
        // narrow uncertainty band drawn as a pale halo
        option.series.push({
            type: 'line', name: 'halo-' + i, xAxisIndex: i, yAxisIndex: i, data: p.model,
            smooth: 0.45, symbol: 'none', silent: true, z: 1,
            lineStyle: {width: haloWidths[station], color: color, opacity: 0.32}
        });
    }
    option.series.push({
        type: 'line', name: legendModel[i], xAxisIndex: i, yAxisIndex: i, data: p.model,
        smooth: isSst ? 0.45 : false, symbol: 'none', z: 2,
        lineStyle: {width: 2, color: color}, itemStyle: {color: color}
    });
    var lo = legendObs[i];
    var obsName = lo[0] + 'σ' + lo[1] + lo[2];
    obsRich[obsName] = '{n| ' + lo[0] + '}{g|σ}{sp|t}{sb|' + lo[1] + '}{n|' + lo[2] + '}';
    option.series.push({
        type: 'scatter', name: obsName, xAxisIndex: i, yAxisIndex: i, data: p.obs,
        symbol: starPath, symbolSize: 6, z: 3,
        itemStyle: {color: '#1a1a1a'}
    });

    option.legend.push({
        left: legendPos[i][0], top: legendPos[i][1], orient: 'vertical', align: 'left',
        data: [{name: legendModel[i], icon: legendLine}, {name: obsName, icon: legendStar}],
        itemWidth: 30, itemHeight: 14, itemGap: 3, selectedMode: false,
        padding: [5, 8, 5, 5],
        backgroundColor: 'rgba(255,255,255,0.65)', borderColor: '#cccccc', borderWidth: 1, borderRadius: 4,
        formatter: legendFormatter,
        textStyle: {fontSize: 14, fontFamily: FONT, color: INK, rich: legendRich}
    });
});

var myChart = echarts.init(document.getElementById('main'));
myChart.setOption(option);
</script>
</body>
</html>
